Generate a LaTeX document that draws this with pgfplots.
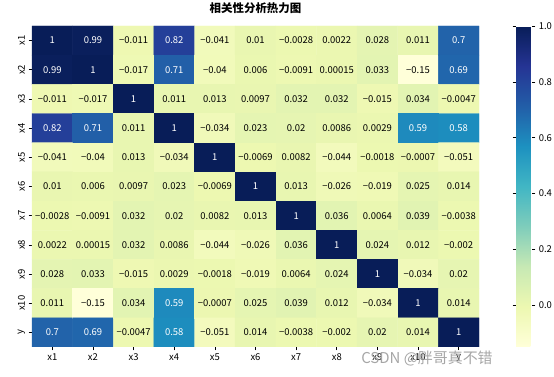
\documentclass[border=0pt]{standalone}
\usepackage{pgfplots}
\pgfplotsset{compat=1.18}
\usepackage{pgfplotstable}
\usepackage{fontspec}
\setmainfont{Noto Sans CJK SC}

\pgfplotstableread{
x y c lbl w
0 10 1 1 1
1 10 0.99 0.99 1
2 10 -0.011 −0.011 0
3 10 0.82 0.82 1
4 10 -0.041 −0.041 0
5 10 0.01 0.01 0
6 10 -0.0028 −0.0028 0
7 10 0.0022 0.0022 0
8 10 0.028 0.028 0
9 10 0.011 0.011 0
10 10 0.7 0.7 1
0 9 0.99 0.99 1
1 9 1 1 1
2 9 -0.017 −0.017 0
3 9 0.71 0.71 1
4 9 -0.04 −0.04 0
5 9 0.006 0.006 0
6 9 -0.0091 −0.0091 0
7 9 0.00015 0.00015 0
8 9 0.033 0.033 0
9 9 -0.15 −0.15 0
10 9 0.69 0.69 1
0 8 -0.011 −0.011 0
1 8 -0.017 −0.017 0
2 8 1 1 1
3 8 0.011 0.011 0
4 8 0.013 0.013 0
5 8 0.0097 0.0097 0
6 8 0.032 0.032 0
7 8 0.032 0.032 0
8 8 -0.015 −0.015 0
9 8 0.034 0.034 0
10 8 -0.0047 −0.0047 0
0 7 0.82 0.82 1
1 7 0.71 0.71 1
2 7 0.011 0.011 0
3 7 1 1 1
4 7 -0.034 −0.034 0
5 7 0.023 0.023 0
6 7 0.02 0.02 0
7 7 0.0086 0.0086 0
8 7 0.0029 0.0029 0
9 7 0.59 0.59 1
10 7 0.58 0.58 1
0 6 -0.041 −0.041 0
1 6 -0.04 −0.04 0
2 6 0.013 0.013 0
3 6 -0.034 −0.034 0
4 6 1 1 1
5 6 -0.0069 −0.0069 0
6 6 0.0082 0.0082 0
7 6 -0.044 −0.044 0
8 6 -0.0018 −0.0018 0
9 6 -0.0007 −0.0007 0
10 6 -0.051 −0.051 0
0 5 0.01 0.01 0
1 5 0.006 0.006 0
2 5 0.0097 0.0097 0
3 5 0.023 0.023 0
4 5 -0.0069 −0.0069 0
5 5 1 1 1
6 5 0.013 0.013 0
7 5 -0.026 −0.026 0
8 5 -0.019 −0.019 0
9 5 0.025 0.025 0
10 5 0.014 0.014 0
0 4 -0.0028 −0.0028 0
1 4 -0.0091 −0.0091 0
2 4 0.032 0.032 0
3 4 0.02 0.02 0
4 4 0.0082 0.0082 0
5 4 0.013 0.013 0
6 4 1 1 1
7 4 0.036 0.036 0
8 4 0.0064 0.0064 0
9 4 0.039 0.039 0
10 4 -0.0038 −0.0038 0
0 3 0.0022 0.0022 0
1 3 0.00015 0.00015 0
2 3 0.032 0.032 0
3 3 0.0086 0.0086 0
4 3 -0.044 −0.044 0
5 3 -0.026 −0.026 0
6 3 0.036 0.036 0
7 3 1 1 1
8 3 0.024 0.024 0
9 3 0.012 0.012 0
10 3 -0.002 −0.002 0
0 2 0.028 0.028 0
1 2 0.033 0.033 0
2 2 -0.015 −0.015 0
3 2 0.0029 0.0029 0
4 2 -0.0018 −0.0018 0
5 2 -0.019 −0.019 0
6 2 0.0064 0.0064 0
7 2 0.024 0.024 0
8 2 1 1 1
9 2 -0.034 −0.034 0
10 2 0.02 0.02 0
0 1 0.011 0.011 0
1 1 -0.15 −0.15 0
2 1 0.034 0.034 0
3 1 0.59 0.59 1
4 1 -0.0007 −0.0007 0
5 1 0.025 0.025 0
6 1 0.039 0.039 0
7 1 0.012 0.012 0
8 1 -0.034 −0.034 0
9 1 1 1 1
10 1 0.014 0.014 0
0 0 0.7 0.7 1
1 0 0.69 0.69 1
2 0 -0.0047 −0.0047 0
3 0 0.58 0.58 1
4 0 -0.051 −0.051 0
5 0 0.014 0.014 0
6 0 -0.0038 −0.0038 0
7 0 -0.002 −0.002 0
8 0 0.02 0.02 0
9 0 0.014 0.014 0
10 0 1 1 1
}\corr

\begin{document}
\begin{tikzpicture}
\path[use as bounding box] (-32bp,-30bp) rectangle (522bp,347bp);
\begin{axis}[
  at={(0,0)}, anchor=south west,
  width=447bp, height=321bp, scale only axis,
  xmin=-0.5, xmax=10.5, ymin=-0.5, ymax=10.5,
  enlargelimits=false,
  axis line style={draw=none},
  tick align=outside, major tick length=3.5bp,
  tick style={black, line width=0.6pt},
  xtick pos=bottom, ytick pos=left,
  xtick={0,...,10}, ytick={0,...,10},
  xticklabels={x1,x2,x3,x4,x5,x6,x7,x8,x9,x10,y},
  yticklabels={y,x10,x9,x8,x7,x6,x5,x4,x3,x2,x1},
  yticklabel style={rotate=90, anchor=south},
  ticklabel style={font=\fontsize{9.5}{11}\selectfont},
  title={\bfseries 相关性分析热力图},
  title style={font=\fontsize{11.5}{13}\selectfont, at={(0.5,1)}, anchor=south, yshift=3bp},
  colormap={ylgnbu}{rgb255=(255,255,217) rgb255=(237,248,177) rgb255=(199,233,180) rgb255=(127,205,187) rgb255=(65,182,196) rgb255=(29,145,192) rgb255=(34,94,168) rgb255=(37,52,148) rgb255=(8,29,88)},
  point meta min=-0.15, point meta max=1,
  colorbar,
  colorbar style={
    width=15.6bp, height=321bp,
    at={(parent axis.north east)}, anchor=north west, xshift=28.7bp,
    ytick={0,0.2,0.4,0.6,0.8,1},
    yticklabel style={font=\fontsize{9.5}{11}\selectfont, /pgf/number format/.cd, fixed, fixed zerofill, precision=1, assume math mode=true},
    axis line style={draw=none},
    tick align=outside, major tick length=3.5bp,
    tick style={black, line width=0.6pt},
  },
  lbl/.style={only marks, mark=none, point meta=explicit symbolic,
    nodes near coords, nodes near coords align={center},
    every node near coord/.append style={font=\fontsize{9.5}{11}\selectfont, inner sep=0pt, text=#1}},
]
\addplot[matrix plot*, mesh/cols=11, point meta=explicit] table[x=x, y=y, meta=c] {\corr};
\addplot[lbl=black, restrict expr to domain={\thisrow{w}}{-1:0.5}]
  table[x=x, y=y, meta=lbl] {\corr};
\addplot[lbl=white, restrict expr to domain={\thisrow{w}}{0.5:2}]
  table[x=x, y=y, meta=lbl] {\corr};
\end{axis}
\node[text=black!35, font=\fontsize{15}{17}\selectfont] at (395bp,-12bp) {CSDN @胖哥真不错};
\end{tikzpicture}
\end{document}
